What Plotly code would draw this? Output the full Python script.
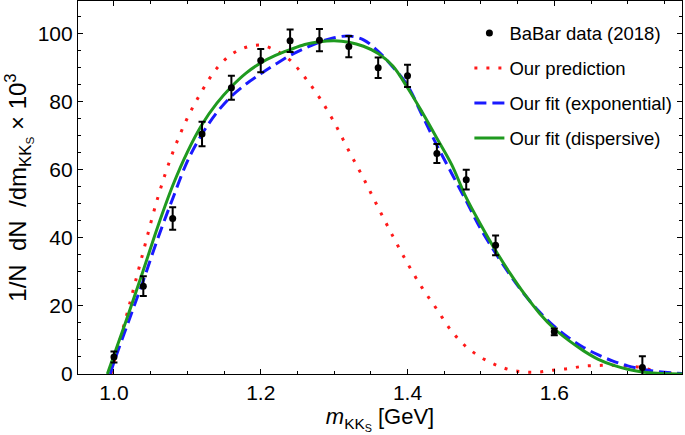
import plotly.graph_objects as go

# ---- data ----
data_x = [1.00, 1.04, 1.08, 1.12, 1.16, 1.20, 1.24, 1.28, 1.32, 1.36, 1.40, 1.44, 1.48, 1.52, 1.60, 1.72]
data_y = [5.0, 25.8, 45.7, 70.5, 84.1, 92.1, 97.9, 98.1, 96.2, 90.0, 87.6, 64.8, 57.1, 37.8, 12.4, 1.9]
data_err = [1.6, 2.9, 3.3, 3.6, 3.5, 3.4, 3.3, 3.3, 3.1, 3.0, 3.3, 2.8, 2.9, 2.9, 1.0, 3.3]

pred_x = [0.996, 1.00, 1.02, 1.04, 1.06, 1.08, 1.10, 1.12, 1.14, 1.16, 1.18, 1.20, 1.22, 1.24,
          1.26, 1.28, 1.30, 1.32, 1.34, 1.36, 1.38, 1.40, 1.42, 1.44, 1.46, 1.48, 1.50, 1.52,
          1.54, 1.56, 1.58, 1.60, 1.62, 1.64, 1.66, 1.68, 1.70, 1.72, 1.74, 1.76]
pred_y = [0.0, 3.5, 19.5, 36.0, 52.0, 65.0, 75.2, 83.2, 89.8, 93.9, 96.0, 96.6, 95.1, 92.2,
          87.2, 81.2, 74.0, 65.6, 57.5, 48.9, 40.5, 32.5, 25.3, 19.0, 12.6, 8.0, 4.9, 2.7,
          1.2, 0.6, 0.6, 1.2, 1.6, 2.3, 2.5, 2.6, 2.3, 1.9, 0.6, 0.2]

exp_x = [0.995, 1.00, 1.02, 1.04, 1.06, 1.08, 1.10, 1.12, 1.14, 1.16, 1.18, 1.20, 1.22, 1.24,
         1.26, 1.28, 1.30, 1.32, 1.34, 1.36, 1.38, 1.40, 1.42, 1.44, 1.46, 1.48, 1.50, 1.52,
         1.54, 1.56, 1.58, 1.60, 1.62, 1.64, 1.66, 1.68, 1.70, 1.72, 1.74, 1.775]
exp_y = [0.0, 3.5, 15.5, 27.5, 40.0, 51.5, 62.5, 70.5, 76.8, 81.6, 85.2, 88.2, 91.0, 93.6,
         95.7, 97.5, 98.8, 99.3, 98.2, 94.8, 90.2, 84.8, 76.0, 67.2, 59.0, 50.8, 42.5, 35.5,
         29.0, 23.2, 18.2, 14.0, 10.6, 7.8, 5.6, 3.8, 2.4, 1.4, 0.7, 0.1]

disp_x = [0.991, 1.00, 1.02, 1.04, 1.06, 1.08, 1.10, 1.12, 1.14, 1.16, 1.18, 1.20, 1.22, 1.24,
          1.26, 1.28, 1.30, 1.32, 1.34, 1.36, 1.38, 1.40, 1.42, 1.44, 1.46, 1.48, 1.50, 1.52,
          1.54, 1.56, 1.58, 1.60, 1.62, 1.64, 1.66, 1.68, 1.70, 1.72, 1.74, 1.775]
disp_y = [0.0, 5.5, 17.8, 30.5, 43.5, 55.3, 65.2, 73.3, 79.5, 84.4, 88.4, 91.4, 93.6, 95.3,
          96.8, 97.6, 97.9, 97.5, 96.3, 94.2, 90.5, 84.1, 76.9, 69.3, 61.6, 51.8, 43.8, 36.3,
          29.5, 23.3, 17.8, 13.3, 9.8, 6.8, 4.3, 2.6, 1.4, 0.6, 0.2, 0.0]

x_ticks = [1.0, 1.2, 1.4, 1.6]
y_ticks = [0, 20, 40, 60, 80, 100]

FONT = "Liberation Sans, Arial, sans-serif"

fig = go.Figure()
fig.add_trace(go.Scatter(x=pred_x, y=pred_y, mode="lines", name="Our prediction",
                         line=dict(color="#ff1a1a", width=3, dash="3px,9px", shape="spline"),
                         legendrank=2, legendgroup="b"))
fig.add_trace(go.Scatter(x=exp_x, y=exp_y, mode="lines", name="Our fit (exponential)",
                         line=dict(color="#1a1aff", width=3, dash="12px,6px", shape="spline"),
                         legendrank=3, legendgroup="c"))
fig.add_trace(go.Scatter(x=disp_x, y=disp_y, mode="lines", name="Our fit (dispersive)",
                         line=dict(color="#1f9a1f", width=3, shape="spline"),
                         legendrank=4, legendgroup="d"))
fig.add_trace(go.Scatter(x=data_x, y=data_y, mode="markers", name="BaBar data (2018)",
                         marker=dict(color="black", size=7),
                         error_y=dict(type="data", array=data_err, color="black",
                                      thickness=2, width=3.5),
                         legendrank=1, legendgroup="a"))

axis_common = dict(
    showline=True, linecolor="black", linewidth=1.2, mirror="allticks",
    ticks="inside", ticklen=5, tickwidth=1, tickcolor="black",
    showgrid=False, zeroline=False,
    tickfont=dict(family=FONT, size=21, color="black"),
)

fig.update_xaxes(
    range=[0.951, 1.774], tickvals=x_ticks, tickformat=".1f",
    minor=dict(dtick=0.05, tick0=1.0, ticks="inside", ticklen=3, tickcolor="black", showgrid=False),
    title=dict(text="<i>m</i><sub>KK<sub>S</sub></sub> [GeV]",
               font=dict(family=FONT, size=22, color="black"), standoff=4),
    **axis_common)
fig.update_yaxes(
    range=[0, 109.6], tickvals=y_ticks,
    minor=dict(dtick=5, tick0=0, ticks="inside", ticklen=3, tickcolor="black", showgrid=False),
    title=dict(text="1/N&nbsp; dN&nbsp; /dm<sub>KK<sub>S</sub></sub> ×&nbsp;10<sup>3</sup>",
               font=dict(family=FONT, size=24, color="black"), standoff=4),
    **axis_common)

fig.update_layout(
    width=685, height=435,
    margin=dict(l=78, r=3, t=1, b=61),
    paper_bgcolor="white", plot_bgcolor="white",
    showlegend=True,
    legend=dict(x=0.648, y=0.964, xanchor="left", yanchor="top",
                font=dict(family=FONT, size=18.5, color="black"),
                bgcolor="rgba(0,0,0,0)", itemwidth=30, tracegroupgap=8,
                traceorder="grouped"),
)

fig.write_html("out.html", config={"displayModeBar": False},
               post_script="document.body.style.margin='0';document.body.style.padding='0';")
